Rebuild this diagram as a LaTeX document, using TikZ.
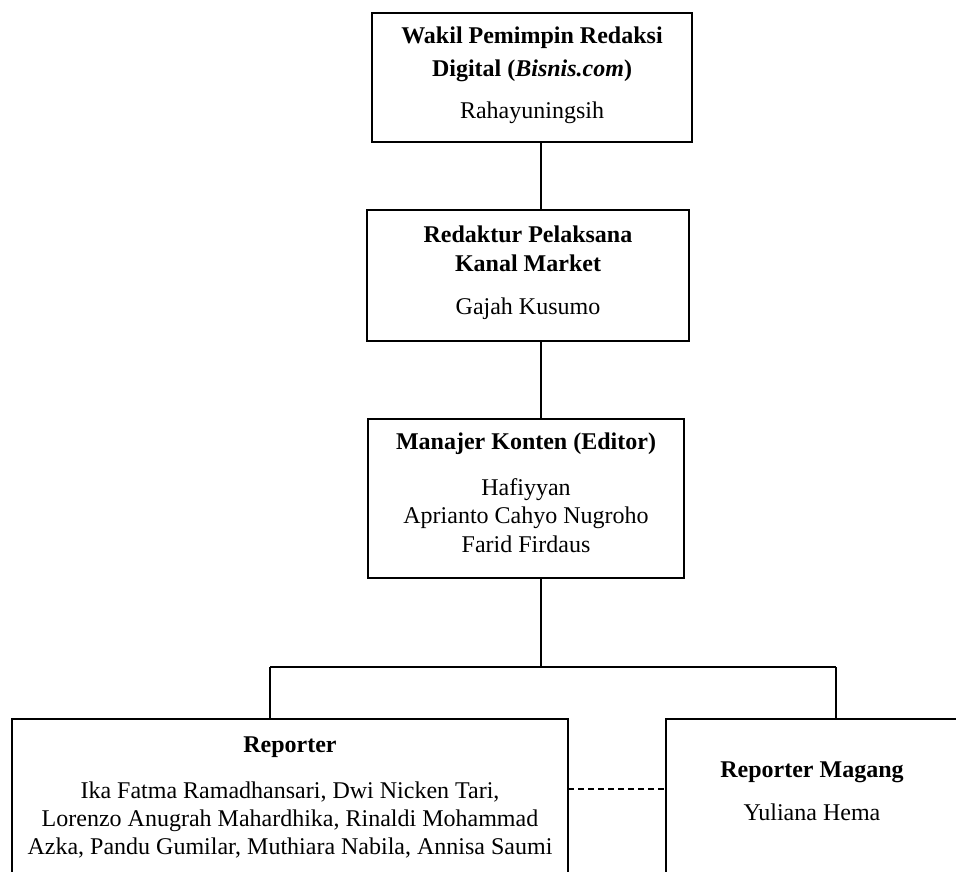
\documentclass[tikz,border=0pt]{standalone}
\usepackage{fontspec}
\setmainfont{Liberation Serif}
\begin{document}
\begin{tikzpicture}[x=1pt,y=-1pt,
  box/.style={draw=black, line width=1.6pt, rectangle, inner sep=0pt, outer sep=0pt, anchor=north west},
  conn/.style={line width=1.6pt},
  dashconn/.style={line width=1.3pt, dash pattern=on 6pt off 4pt},
  head/.style={font=\fontsize{24}{28}\selectfont\bfseries, inner sep=0pt, anchor=base},
  person/.style={font=\fontsize{24}{28}\selectfont, inner sep=0pt, anchor=base},
]
\clip (0,0) rectangle (956,871);
\fill[white] (0,0) rectangle (956,871);

% boxes
\node[box, minimum width=320pt, minimum height=129pt] (A) at (372,13) {};
\node[box, minimum width=322pt, minimum height=131pt] (B) at (367,210) {};
\node[box, minimum width=316pt, minimum height=159pt] (C) at (368,419) {};
\node[box, minimum width=556pt, minimum height=200pt] (R) at (12,719) {};
\node[box, minimum width=300pt, minimum height=200pt] (M) at (666,719) {};

% texts
\node[head] (a1) at (532,43) {Wakil Pemimpin Redaksi};
\node[head] (a2) at (532,76) {Digital (\textit{Bisnis.com})};
\node[person] (a3) at (532,118) {Rahayuningsih};

\node[head] (b1) at (528,242) {Redaktur Pelaksana};
\node[head] (b2) at (528,271) {Kanal Market};
\node[person] (b3) at (528,314) {Gajah Kusumo};

\node[head] (c1) at (526,449) {Manajer Konten (Editor)};
\node[person] (c2) at (526,495) {Hafiyyan};
\node[person] (c3) at (526,523) {Aprianto Cahyo Nugroho};
\node[person] (c4) at (526,552) {Farid Firdaus};

\node[head] (r1) at (290,752) {Reporter};
\node[person] (r2) at (290,798) {Ika Fatma Ramadhansari, Dwi Nicken Tari,};
\node[person] (r3) at (290,826) {Lorenzo Anugrah Mahardhika, Rinaldi Mohammad};
\node[person] (r4) at (290,854) {Azka, Pandu Gumilar, Muthiara Nabila, Annisa Saumi};

\node[head] (m1) at (812,777) {Reporter Magang};
\node[person] (m2) at (812,820) {Yuliana Hema};

% connector coordinates
\coordinate (spine) at (541,0);
\coordinate (bus) at (541,667);
\coordinate (busL) at (270,667);
\coordinate (busR) at (836,667);
\coordinate (dashy) at (0,789);

\draw[conn] (A.south -| spine) -- (B.north -| spine);
\draw[conn] (B.south -| spine) -- (C.north -| spine);
\draw[conn] (C.south -| spine) -- (bus);
\draw[conn] (busL) -- (busR);
\draw[conn] (busL) -- (busL |- R.north);
\draw[conn] (busR) -- (busR |- M.north);
\draw[dashconn] (R.east |- dashy) -- (M.west |- dashy);
\end{tikzpicture}
\end{document}
